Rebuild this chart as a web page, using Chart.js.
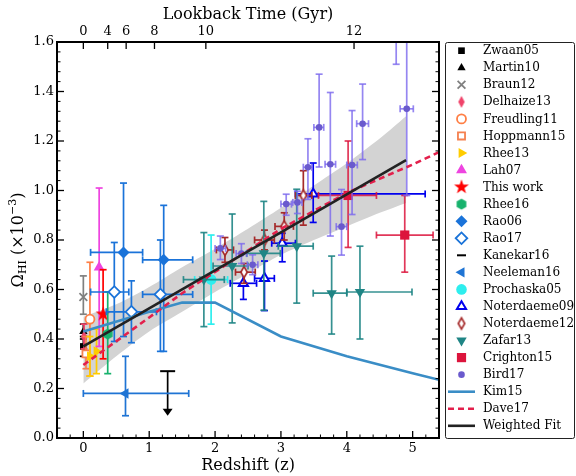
<!DOCTYPE html>
<html>
<head>
<meta charset="utf-8">
<script src="https://cdn.jsdelivr.net/npm/chart.js@4.4.1/dist/chart.umd.min.js"></script>
<style>
  html, body { margin: 0; padding: 0; background: #fff; }
  #wrap { width: 576px; height: 476px; position: relative; }
</style>
</head>
<body>
<div id="wrap"><canvas id="c"></canvas></div>
<script>
// each row: [z, omega, -dz, +dz, -dOmega, +dOmega]   (omega in 1e-3)
const zwaan05 = [[0.0, 0.37, 0, 0, 0.04, 0.04]];
const martin10 = [[0.0, 0.43, 0, 0, 0.03, 0.03]];
const braun12 = [[0.0, 0.57, 0, 0, 0.07, 0.085]];
const delhaize13 = [[0.01, 0.41, 0, 0, 0.05, 0.05]];
const freudling11 = [[0.1, 0.48, 0, 0, 0.23, 0.23]];
const hoppmann15 = [[0.04, 0.34, 0, 0, 0.06, 0.07]];
const rhee13 = [[0.1, 0.33, 0, 0, 0.08, 0.08], [0.2, 0.35, 0, 0, 0.09, 0.09]];
const lah07 = [[0.24, 0.69, 0, 0, 0.32, 0.32]];
const thisWork = [[0.3, 0.50, 0, 0, 0.18, 0.18]];
const rhee16 = [[0.37, 0.42, 0, 0, 0.16, 0.17]];
const rao06 = [[0.61, 0.75, 0.5, 0.29, 0.34, 0.28], [1.22, 0.72, 0.32, 0.44, 0.37, 0.22]];
const rao17 = [[0.47, 0.59, 0.36, 0.22, 0.2, 0.2], [0.73, 0.51, 0.38, 0.38, 0.125, 0.125], [1.17, 0.58, 0.27, 0.49, 0.23, 0.22]];
// upper limit: [z, limit, arrow tip]
const kanekar16 = [[1.28, 0.27, 0.09]];
const neeleman16 = [[0.64, 0.18, 0.64, 0.96, 0.09, 0.15]];
const prochaska05 = [[1.94, 0.64, 0.25, 0.25, 0.18, 0.18]];
const noterdaeme09 = [[2.43, 0.625, 0.2, 0.2, 0.065, 0.045], [2.75, 0.645, 0.15, 0.15, 0.13, 0.07],
  [3.02, 0.787, 0.16, 0.2, 0.075, 0.04], [3.49, 0.986, 0.27, 1.7, 0.115, 0.125]];
const noterdaeme12 = [[2.15, 0.76, 0.13, 0.13, 0.05, 0.05], [2.44, 0.67, 0.13, 0.17, 0.045, 0.035],
  [2.75, 0.80, 0.15, 0.15, 0.04, 0.04], [3.05, 0.855, 0.14, 0.14, 0.055, 0.055], [3.34, 0.98, 0.12, 0.13, 0.12, 0.1]];
const zafar13 = [[1.83, 0.64, 0.31, 0.31, 0.19, 0.19], [2.26, 0.695, 0.29, 0.24, 0.23, 0.21],
  [2.74, 0.746, 0.26, 0.25, 0.23, 0.21], [3.24, 0.775, 0.28, 0.25, 0.23, 0.23],
  [3.77, 0.585, 0.28, 0.23, 0.165, 0.15], [4.2, 0.59, 0.2, 0.79, 0.19, 0.185]];
const crighton15 = [[4.02, 0.98, 0.45, 0.43, 0.21, 0.22], [4.88, 0.82, 0.43, 0.43, 0.15, 0.16]];
const bird17 = [[2.08, 0.766, 0.08, 0.08, 0.045, 0.05], [2.40, 0.745, 0.08, 0.08, 0.04, 0.04],
  [2.57, 0.70, 0.08, 0.08, 0.04, 0.04], [3.08, 0.945, 0.08, 0.08, 0.045, 0.04],
  [3.25, 0.952, 0.07, 0.07, 0.045, 0.045], [3.41, 1.094, 0.07, 0.06, 0.13, 0.115],
  [3.58, 1.255, 0.08, 0.07, 0.16, 0.215], [3.75, 1.106, 0.08, 0.08, 0.29, 0.29],
  [3.92, 0.854, 0.08, 0.08, 0.115, 0.15], [4.08, 1.103, 0.08, 0.08, 0.2, 0.22],
  [4.24, 1.27, 0.09, 0.09, 0.145, 0.16], [4.75, 1.90, 0.08, 0.08, 0.39, 0.39],
  [4.91, 1.33, 0.1, 0.1, 0.35, 0.35]];

const kimZ = [0, 1, 1.5, 2, 3, 4, 5, 5.4];
const kimOmega = [0.43, 0.51, 0.547, 0.547, 0.41, 0.33, 0.262, 0.235];
const daveZ = [0, 1, 1.5, 2, 3, 4, 5, 5.4];
const daveOmega = [0.295, 0.487, 0.585, 0.671, 0.845, 0.99, 1.105, 1.155];
const fitZ = [0, 4.9];
const fitOmega = [0.37, 1.123];
const bandZ = [0, 0.5, 1, 1.5, 2, 2.5, 3, 3.5, 4, 4.5, 4.9];
const bandUpper = [0.49, 0.54, 0.61, 0.69, 0.765, 0.845, 0.93, 1.02, 1.11, 1.21, 1.30];
const bandLower = [0.22, 0.33, 0.43, 0.51, 0.59, 0.665, 0.74, 0.80, 0.855, 0.91, 0.95];

const zTicks = [0, 1, 2, 3, 4, 5];
const omegaTicks = [0, 0.2, 0.4, 0.6, 0.8, 1.0, 1.2, 1.4, 1.6];
const lookbackZ = [0, 0.37, 0.65, 1.08, 1.86, 4.11];
const lookbackLabels = ['0', '4', '6', '8', '10', '12'];

const FONT = '"DejaVu Serif", serif';

function makeMarker(size, draw) {
  const c = document.createElement('canvas');
  c.width = size; c.height = size;
  const g = c.getContext('2d');
  g.translate(size / 2, size / 2);
  draw(g);
  return c;
}
const starIcon = makeMarker(18, g => {
  g.beginPath();
  for (let i = 0; i < 10; i++) {
    const r = i % 2 ? 3.1 : 7.8;
    const a = -Math.PI / 2 + i * Math.PI / 5;
    g.lineTo(r * Math.cos(a), r * Math.sin(a));
  }
  g.closePath();
  g.fillStyle = '#ff0000';
  g.fill();
});
const hexIcon = makeMarker(14, g => {
  g.beginPath();
  for (let i = 0; i < 6; i++) {
    const a = -Math.PI / 2 + i * Math.PI / 3;
    g.lineTo(5.6 * Math.cos(a), 5.6 * Math.sin(a));
  }
  g.closePath();
  g.fillStyle = '#17b26d';
  g.fill();
});
const thinDiamond = makeMarker(14, g => {
  g.beginPath();
  g.moveTo(0, -6); g.lineTo(3.2, 0); g.lineTo(0, 6); g.lineTo(-3.2, 0); g.closePath();
  g.fillStyle = '#f0436a';
  g.fill();
});
const openThinDiamond = makeMarker(16, g => {
  g.beginPath();
  g.moveTo(0, -5.6); g.lineTo(3.2, 0); g.lineTo(0, 5.6); g.lineTo(-3.2, 0); g.closePath();
  g.fillStyle = '#fff';
  g.fill();
  g.lineWidth = 1.7;
  g.strokeStyle = '#a52a2a';
  g.stroke();
});

const pts = rows => rows.map(r => ({ x: r[0], y: r[1] }));
const curve = (zs, ys) => zs.map((z, i) => ({ x: z, y: ys[i] }));

function marker(label, rows, color, style, radius, extra) {
  return Object.assign({
    label, rows, data: pts(rows), errColor: color,
    pointStyle: style, pointRadius: radius,
    pointBackgroundColor: color, pointBorderColor: color, pointBorderWidth: 0,
    pointRotation: 0, showLine: false
  }, extra || {});
}

const datasets = [
  marker('Zwaan05', zwaan05, '#000', 'rect', 4.7),
  marker('Martin10', martin10, '#000', 'triangle', 4.8),
  marker('Braun12', braun12, '#808080', 'crossRot', 5.5, { pointBorderWidth: 1.8 }),
  marker('Delhaize13', delhaize13, '#f0436a', thinDiamond, 6),
  marker('Freudling11', freudling11, '#ff7f45', 'circle', 4.5, { pointBackgroundColor: '#fff', pointBorderWidth: 1.8 }),
  marker('Hoppmann15', hoppmann15, '#f5804f', 'rect', 5, { pointBackgroundColor: '#fff', pointBorderWidth: 1.8 }),
  marker('Rhee13', rhee13, '#ffcc00', 'triangle', 5.8, { pointRotation: 90 }),
  marker('Lah07', lah07, '#ee44e0', 'triangle', 6.3),
  marker('This work', thisWork, '#ff0000', starIcon, 7),
  marker('Rhee16', rhee16, '#17b26d', hexIcon, 5.5),
  marker('Rao06', rao06, '#1a73d9', 'rectRot', 6),
  marker('Rao17', rao17, '#1a73d9', 'rectRot', 5.8, { pointBackgroundColor: '#fff', pointBorderWidth: 1.8 }),
  marker('Kanekar16', kanekar16, '#000', 'line', 7.5, { pointBorderWidth: 2, legendRadius: 4.5, limit: true }),
  marker('Neeleman16', neeleman16, '#1f74d4', 'triangle', 6, { pointRotation: -90 }),
  marker('Prochaska05', prochaska05, '#2eeeee', 'circle', 5.3),
  marker('Noterdaeme09', noterdaeme09, '#0000ee', 'triangle', 5.3, { pointBackgroundColor: '#fff', pointBorderWidth: 2 }),
  marker('Noterdaeme12', noterdaeme12, '#a52a2a', openThinDiamond, 6),
  marker('Zafar13', zafar13, '#1f8585', 'triangle', 6, { pointRotation: 180, errAlpha: 0.9 }),
  marker('Crighton15', crighton15, '#dc143c', 'rect', 6.5, { errAlpha: 0.85 }),
  marker('Bird17', bird17, '#6a5acd', 'circle', 3.3, { errColor: '#7b68ee', errAlpha: 0.8 }),
  { label: 'Kim15', type: 'line', data: curve(kimZ, kimOmega), borderColor: '#3a8dc6', borderWidth: 2.6,
    pointRadius: 0, fill: false, tension: 0, order: 2 },
  { label: 'Dave17', type: 'line', data: curve(daveZ, daveOmega), borderColor: '#e3204c', borderWidth: 2.6,
    borderDash: [6, 4], pointRadius: 0, fill: false, tension: 0, order: 1 },
  { label: 'Weighted Fit', type: 'line', data: curve(fitZ, fitOmega), borderColor: '#222', borderWidth: 2.6,
    pointRadius: 0, fill: false, tension: 0, order: 0 },
  { label: 'band upper', type: 'line', noLegend: true, data: curve(bandZ, bandUpper), borderWidth: 0,
    borderColor: 'rgba(0,0,0,0)', pointRadius: 0, fill: false, tension: 0.3, order: 1000 },
  { label: 'band lower', type: 'line', noLegend: true, data: curve(bandZ, bandLower), borderWidth: 0,
    borderColor: 'rgba(0,0,0,0)', backgroundColor: '#d3d3d3', pointRadius: 0, fill: '-1', tension: 0.3, order: 1001 }
];
// later datasets sit on top, as in matplotlib
datasets.forEach((ds, i) => { if (ds.order === undefined) ds.order = 500 - i; });

const errorBars = {
  id: 'errorBars',
  beforeDatasetDraw(chart, args) {
    const ds = chart.data.datasets[args.index];
    if (!ds.rows) return;
    const { ctx, chartArea: a, scales: { x, y } } = chart;
    const seg = (x0, y0, x1, y1) => { ctx.beginPath(); ctx.moveTo(x0, y0); ctx.lineTo(x1, y1); ctx.stroke(); };
    const cap = 3.5;
    ctx.save();
    ctx.beginPath();
    ctx.rect(a.left, a.top, a.right - a.left, a.bottom - a.top);
    ctx.clip();
    ctx.strokeStyle = ds.errColor;
    ctx.fillStyle = ds.errColor;
    ctx.globalAlpha = ds.errAlpha || 1;
    ctx.lineWidth = 1.7;
    ds.rows.forEach(r => {
      const px = x.getPixelForValue(r[0]);
      const py = y.getPixelForValue(r[1]);
      if (ds.limit) {
        const tip = y.getPixelForValue(r[2]);
        seg(px, py, px, tip - 6);
        ctx.beginPath();
        ctx.moveTo(px - 5, tip - 7); ctx.lineTo(px + 5, tip - 7); ctx.lineTo(px, tip); ctx.closePath();
        ctx.fill();
        return;
      }
      if (r[2] || r[3]) {
        const x0 = x.getPixelForValue(r[0] - r[2]);
        const x1 = x.getPixelForValue(r[0] + r[3]);
        seg(x0, py, x1, py);
        seg(x0, py - cap, x0, py + cap);
        seg(x1, py - cap, x1, py + cap);
      }
      if (r[4] || r[5]) {
        const y0 = y.getPixelForValue(r[1] - r[4]);
        const y1 = y.getPixelForValue(r[1] + r[5]);
        seg(px, y0, px, y1);
        seg(px - cap, y0, px + cap, y0);
        seg(px - cap, y1, px + cap, y1);
      }
    });
    ctx.restore();
  }
};

const frameAndLabels = {
  id: 'frameAndLabels',
  afterDraw(chart) {
    const { ctx, chartArea: a, scales } = chart;
    const x = scales.x, y = scales.y, x2 = scales.x2;
    const seg = (x0, y0, x1, y1) => { ctx.beginPath(); ctx.moveTo(x0, y0); ctx.lineTo(x1, y1); ctx.stroke(); };
    ctx.save();
    ctx.strokeStyle = '#000';

    // inward ticks
    ctx.lineWidth = 1.3;
    zTicks.forEach(v => { const p = x.getPixelForValue(v); seg(p, a.bottom, p, a.bottom - 7); });
    lookbackZ.forEach(v => { const p = x2.getPixelForValue(v); seg(p, a.top, p, a.top + 7); });
    omegaTicks.forEach(v => {
      const p = y.getPixelForValue(v);
      seg(a.left, p, a.left + 7, p);
      seg(a.right, p, a.right - 7, p);
    });
    ctx.lineWidth = 1;
    for (let i = -1; i <= 26; i++) {
      if (i % 5 === 0) continue;
      const p = x.getPixelForValue(i * 0.2);
      seg(p, a.bottom, p, a.bottom - 3.5);
    }
    for (let i = 1; i < 40; i++) {
      if (i % 5 === 0) continue;
      const p = y.getPixelForValue(i * 0.04);
      seg(a.left, p, a.left + 3.5, p);
      seg(a.right, p, a.right - 3.5, p);
    }
    ctx.lineWidth = 2;
    ctx.strokeRect(a.left, a.top, a.right - a.left, a.bottom - a.top);

    // axis titles
    ctx.fillStyle = '#000';
    ctx.textAlign = 'center';
    ctx.textBaseline = 'middle';
    ctx.font = '16px ' + FONT;
    const cx = (a.left + a.right) / 2;
    ctx.fillText('Lookback Time (Gyr)', cx, 15);
    ctx.fillText('Redshift (z)', cx, 466);

    ctx.save();
    ctx.translate(19, (a.top + a.bottom) / 2);
    ctx.rotate(-Math.PI / 2);
    const parts = [['Ω', 16, 0], ['HI', 11, 4], [' (×10', 16, 0], ['−3', 11, -6], [')', 16, 0]];
    let total = 0;
    parts.forEach(p => { ctx.font = p[1] + 'px ' + FONT; total += ctx.measureText(p[0]).width; });
    let tx = -total / 2;
    ctx.textAlign = 'left';
    parts.forEach(p => {
      ctx.font = p[1] + 'px ' + FONT;
      ctx.fillText(p[0], tx, p[2]);
      tx += ctx.measureText(p[0]).width;
    });
    ctx.restore();

    // legend
    const box = { left: 445.5, top: 42.5, right: 574.5, bottom: 438.5 };
    ctx.fillStyle = '#fff';
    ctx.strokeStyle = '#222';
    ctx.lineWidth = 1;
    ctx.beginPath();
    ctx.roundRect(box.left, box.top, box.right - box.left, box.bottom - box.top, 2);
    ctx.fill();
    ctx.stroke();
    let row = 0;
    chart.data.datasets.forEach(ds => {
      if (ds.noLegend) return;
      const my = 50.7 + row * 17.05;
      const mx = 461.5;
      if (ds.type === 'line') {
        ctx.save();
        ctx.strokeStyle = ds.borderColor;
        ctx.lineWidth = ds.borderWidth;
        ctx.setLineDash(ds.borderDash || []);
        seg(448, my, 475, my);
        ctx.restore();
      } else {
        ctx.save();
        ctx.fillStyle = ds.pointBackgroundColor;
        ctx.strokeStyle = ds.pointBorderColor;
        ctx.lineWidth = ds.pointBorderWidth;
        Chart.helpers.drawPoint(ctx, {
          pointStyle: ds.pointStyle,
          radius: ds.legendRadius || ds.pointRadius,
          rotation: ds.pointRotation || 0,
          borderWidth: ds.pointBorderWidth
        }, mx, my);
        ctx.restore();
      }
      ctx.fillStyle = '#000';
      ctx.font = '12px ' + FONT;
      ctx.textAlign = 'left';
      ctx.textBaseline = 'middle';
      ctx.fillText(ds.label, 483, my + 0.5);
      row++;
    });
    ctx.restore();
  }
};

const tickFont = { family: FONT, size: 13 };

new Chart(document.getElementById('c'), {
  type: 'scatter',
  data: { datasets },
  options: {
    responsive: true,
    maintainAspectRatio: false,
    animation: false,
    devicePixelRatio: 1,
    events: [],
    layout: { padding: { left: 0, top: 0, right: 137, bottom: 0 } },
    plugins: { legend: { display: false }, tooltip: { enabled: false } },
    scales: {
      x: {
        type: 'linear', position: 'bottom', min: -0.4, max: 5.4,
        afterBuildTicks: s => { s.ticks = zTicks.map(v => ({ value: v })); },
        afterFit: s => { s.height = 38; },
        ticks: { font: tickFont, color: '#000', padding: 3, maxRotation: 0, autoSkip: false },
        grid: { display: false, drawTicks: false },
        border: { display: false }
      },
      x2: {
        type: 'linear', position: 'top', min: -0.4, max: 5.4,
        afterBuildTicks: s => { s.ticks = lookbackZ.map(v => ({ value: v })); },
        afterFit: s => { s.height = 42; },
        ticks: { font: tickFont, color: '#000', padding: 3, maxRotation: 0, autoSkip: false,
          callback: (v, i) => lookbackLabels[i] },
        grid: { display: false, drawTicks: false },
        border: { display: false }
      },
      y: {
        type: 'linear', position: 'left', min: 0, max: 1.6,
        afterBuildTicks: s => { s.ticks = omegaTicks.map(v => ({ value: v })); },
        afterFit: s => { s.width = 57; },
        ticks: { font: tickFont, color: '#000', padding: 3, autoSkip: false,
          callback: v => v.toFixed(1) },
        grid: { display: false, drawTicks: false },
        border: { display: false }
      }
    }
  },
  plugins: [errorBars, frameAndLabels]
});
</script>
</body>
</html>
